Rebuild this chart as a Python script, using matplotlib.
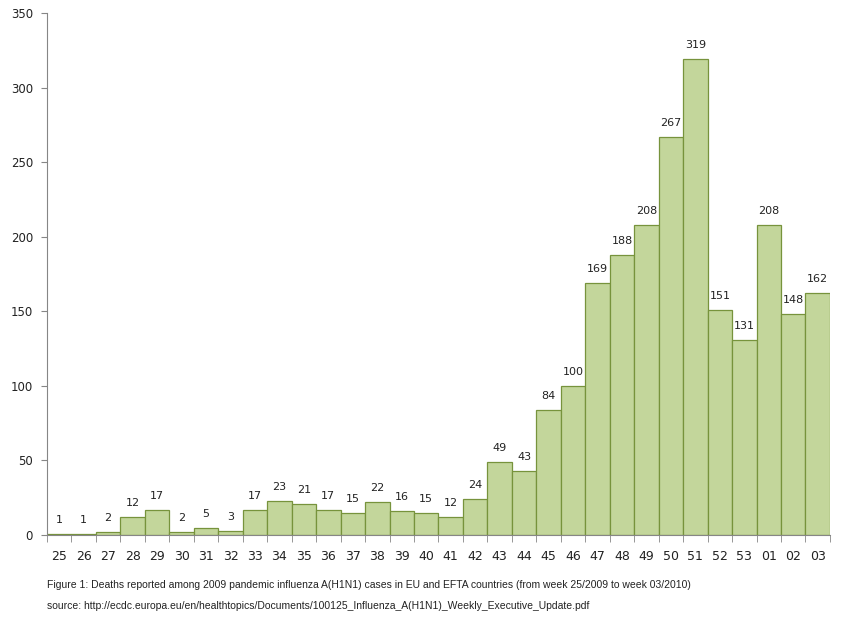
import matplotlib
matplotlib.use("Agg")
import matplotlib.pyplot as plt
import numpy as np

# Weekly deaths, week 25/2009 to week 03/2010
weeks = ['25', '26', '27', '28', '29', '30', '31', '32', '33', '34', '35',
         '36', '37', '38', '39', '40', '41', '42', '43', '44', '45', '46',
         '47', '48', '49', '50', '51', '52', '53', '01', '02', '03']
deaths = [1, 1, 2, 12, 17, 2, 5, 3, 17, 23, 21, 17, 15, 22, 16, 15, 12,
          24, 49, 43, 84, 100, 169, 188, 208, 267, 319, 151, 131, 208,
          148, 162]

caption = ("Figure 1: Deaths reported among 2009 pandemic influenza A(H1N1) "
           "cases in EU and EFTA countries (from week 25/2009 to week 03/2010)")
source = ("source: http://ecdc.europa.eu/en/healthtopics/Documents/"
          "100125_Influenza_A(H1N1)_Weekly_Executive_Update.pdf")

fig = plt.figure(figsize=(8.42, 6.25), dpi=100)
ax = fig.add_axes([0.0558, 0.144, 0.9299, 0.835])

x = np.arange(len(weeks))
ax.bar(x, deaths, width=1.0, color='#c3d69b', edgecolor='#77933c',
       linewidth=0.9)

for xi, v in zip(x, deaths):
    ax.text(xi, v + 6, str(v), ha='center', va='bottom', fontsize=8,
            color='#222222')

ax.set_xlim(-0.5, len(weeks) - 0.5)
ax.set_ylim(0, 350)
ax.set_yticks(range(0, 351, 50))
ax.tick_params(axis='y', labelsize=8.5, length=4, color='#868686',
               pad=6, labelcolor='#222222')

ax.set_xticks(x)
ax.set_xticklabels(weeks, fontsize=9, color='#222222')
ax.set_xticks(np.arange(-0.5, len(weeks)), minor=True)
ax.tick_params(axis='x', which='major', length=0, pad=11)
ax.tick_params(axis='x', which='minor', length=5, color='#868686')

for side in ['top', 'right']:
    ax.spines[side].set_visible(False)
for side in ['left', 'bottom']:
    ax.spines[side].set_color('#868686')

fig.text(0.056, 0.060, caption, fontsize=7.5, family='Liberation Sans',
         color='#222222')
fig.text(0.056, 0.025, source, fontsize=7.5, family='Liberation Sans',
         color='#222222')

fig.savefig('out.png', dpi=100)
